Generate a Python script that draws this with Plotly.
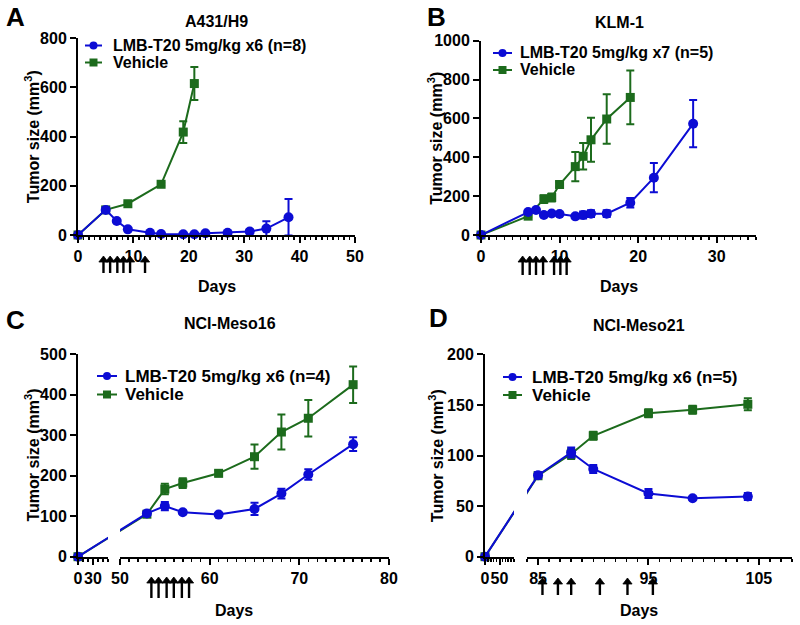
import plotly.graph_objects as go

W, H = 800, 625
OFF = 0
BLUE = "#0c0cd4"
GREEN = "#1c6b1c"
FONT = "Liberation Sans, Arial, sans-serif"

# ---------------- data ----------------
# Panel A: A431/H9
A_lmb_days = [0, 5, 7, 9, 13, 15, 19, 21, 23, 27, 31, 34, 38]
A_lmb = [0, 102, 57, 23, 9, 4, 3, 3, 7, 9, 14, 26, 72]
A_lmb_err = [0, 4, 5, 4, 3, 2, 1, 1, 3, 3, 8, 30, 74]
A_veh_days = [0, 5, 9, 15, 19, 21]
A_veh = [0, 102, 127, 206, 418, 615]
A_veh_err = [0, 3, 5, 6, 44, 67]
A_doses = [4.6, 5.8, 7.1, 8.2, 9.4, 12.1]

# Panel B: KLM-1
B_lmb_days = [0, 6, 7, 8, 9, 10, 12, 13, 14, 16, 19, 22, 27]
B_lmb = [0, 118, 129, 103, 111, 108, 96, 103, 110, 110, 166, 295, 573]
B_lmb_err = [0, 5, 5, 4, 4, 4, 5, 18, 18, 18, 25, 75, 122]
B_veh_days = [0, 6, 8, 9, 10, 12, 13, 14, 16, 19]
B_veh = [0, 97, 185, 193, 260, 352, 405, 490, 597, 708]
B_veh_err = [0, 5, 20, 20, 14, 75, 68, 113, 127, 138]
B_doses = [5.3, 6.2, 7.0, 7.9, 9.3, 10.1, 10.9]

# Panel C: NCI-Meso16
C_lmb_days = [0, 53, 55, 57, 61, 65, 68, 71, 76]
C_lmb = [0, 107, 125, 110, 104, 118, 156, 203, 278]
C_lmb_err = [0, 5, 10, 4, 3, 15, 12, 13, 17]
C_veh_days = [0, 53, 55, 57, 61, 65, 68, 71, 76]
C_veh = [0, 105, 167, 182, 206, 247, 308, 342, 425]
C_veh_err = [0, 6, 13, 12, 7, 30, 43, 45, 45]
C_doses = [53.5, 54.3, 55.2, 56.0, 56.9, 57.7]

# Panel D: NCI-Meso21
D_lmb_days = [0, 85, 88, 90, 95, 99, 104]
D_lmb = [0, 80.5, 103, 86.7, 62.5, 57.7, 59.5]
D_lmb_err = [0, 3, 5, 4, 4.5, 1.5, 3.5]
D_veh_days = [0, 85, 88, 90, 95, 99, 104]
D_veh = [0, 80, 101.5, 119.5, 141.7, 145.2, 150.6]
D_veh_err = [0, 3, 5, 4, 4, 4, 6]
D_doses = [85.4, 86.8, 88.0, 90.6, 93.1, 95.4]

TITLES = ["A431/H9", "KLM-1", "NCI-Meso16", "NCI-Meso21"]
LETTERS = ["A", "B", "C", "D"]
LEG_LMB = ["LMB-T20 5mg/kg x6 (n=8)", "LMB-T20 5mg/kg x7 (n=5)",
           "LMB-T20 5mg/kg x6 (n=4)", "LMB-T20 5mg/kg x6 (n=5)"]
LEG_VEH = "Vehicle"
YTITLE = "Tumor size (mm<sup>3</sup>)"
XTITLE = "Days"

# ---------------- geometry (screen pixels) ----------------
def fx(px):
    return (px - OFF) / W


def fy(py):
    return 1 - (py - OFF) / H


def to_px(v, dom, rng):
    return dom[0] + (v - rng[0]) / (rng[1] - rng[0]) * (dom[1] - dom[0])


def from_px(p, dom, rng):
    return rng[0] + (p - dom[0]) / (dom[1] - dom[0]) * (rng[1] - rng[0])


tickfont = dict(family=FONT, size=16, color="black", weight="bold")
MSIZE = {"circle": 10, "square": 9}

fig = go.Figure()
layout = dict(width=W, height=H,
              margin=dict(l=0, r=0, t=0, b=0, pad=0, autoexpand=False),
              paper_bgcolor="white", plot_bgcolor="rgba(0,0,0,0)",
              showlegend=False, font=dict(family=FONT, color="black"))
annotations = []
shapes = []


def xaxis_cfg(dom, rng, anchor, tickvals, minor_tick0, minor_dtick):
    return dict(domain=[fx(dom[0]), fx(dom[1])], range=rng, anchor=anchor,
                showline=True, linecolor="black", linewidth=2,
                ticks="outside", ticklen=6, tickwidth=2, tickcolor="black",
                tickmode="array", tickvals=tickvals, tickangle=0,
                tickfont=tickfont, showgrid=False, zeroline=False, fixedrange=True,
                automargin=False,
                minor=dict(ticks="outside", ticklen=3, tickwidth=1.5, tickcolor="black",
                           tickmode="linear", tick0=minor_tick0, dtick=minor_dtick,
                           showgrid=False))


def yaxis_cfg(dom, rng, anchor, dtick):
    return dict(domain=[fy(dom[0]), fy(dom[1])], range=rng, anchor=anchor,
                showline=True, linecolor="black", linewidth=2,
                ticks="outside", ticklen=6, tickwidth=2, tickcolor="black",
                tickmode="linear", tick0=0, dtick=dtick, automargin=False,
                tickfont=tickfont, showgrid=False, zeroline=False, fixedrange=True)


def series(x, y, err, xa, ya, color, symbol, mode="lines+markers"):
    return go.Scatter(x=x, y=y, xaxis=xa, yaxis=ya, mode=mode,
                      line=dict(color=color, width=2),
                      marker=dict(symbol=symbol, size=MSIZE[symbol], color=color),
                      error_y=dict(type="data", array=err, visible=True,
                                   color=color, thickness=2, width=4),
                      cliponaxis=False, showlegend=False, hoverinfo="skip")


def simple_panel(xa, ya, data):
    for days, vals, err, color, sym in data:
        fig.add_trace(series(days, vals, err, xa, ya, color, sym))


def broken_panel(xl, xr, ya, dl, rl, dr, rr, data):
    for days, vals, err, color, sym in data:
        left = [(d, v, e) for d, v, e in zip(days, vals, err) if d < rr[0]]
        right = [(d, v, e) for d, v, e in zip(days, vals, err) if d >= rr[0]]
        lx, ly = left[-1][0], left[-1][1]
        rx, ry = right[0][0], right[0][1]
        rx_in_left = from_px(to_px(rx, dr, rr), dl, rl)
        lx_in_right = from_px(to_px(lx, dl, rl), dr, rr)
        fig.add_trace(go.Scatter(x=[lx, rx_in_left], y=[ly, ry], xaxis=xl, yaxis=ya,
                                 mode="lines", line=dict(color=color, width=2),
                                 showlegend=False, hoverinfo="skip"))
        fig.add_trace(go.Scatter(x=[lx_in_right, rx], y=[ly, ry], xaxis=xr, yaxis=ya,
                                 mode="lines", line=dict(color=color, width=2),
                                 showlegend=False, hoverinfo="skip"))
        fig.add_trace(series([p[0] for p in left], [p[1] for p in left],
                             [p[2] for p in left], xl, ya, color, sym))
        fig.add_trace(series([p[0] for p in right], [p[1] for p in right],
                             [p[2] for p in right], xr, ya, color, sym))


def arrows(xref, yname, doses, tip, tail):
    # hidden y axis: value = pixels above the arrow tail
    L = tail - tip
    layout[yname] = dict(domain=[fy(tail), fy(tip)], range=[0, L], anchor=xref,
                         visible=False, fixedrange=True, automargin=False)
    sx, sy = [], []
    for d in doses:
        sx += [d, d, None]
        sy += [0, L - 5, None]
    ya = yname.replace("axis", "")
    fig.add_trace(go.Scatter(x=sx, y=sy, xaxis=xref, yaxis=ya, mode="lines",
                             line=dict(color="black", width=2.4),
                             showlegend=False, hoverinfo="skip"))
    fig.add_trace(go.Scatter(x=doses, y=[L - 4] * len(doses), xaxis=xref, yaxis=ya,
                             mode="markers",
                             marker=dict(symbol="triangle-up", size=8, color="black",
                                         line=dict(width=0.8, color="black")),
                             cliponaxis=False, showlegend=False, hoverinfo="skip"))


def legend(sym_x0, sym_x1, text_x, rows, labels, size):
    for (color, sym, lab), ry in zip(labels, rows):
        shapes.append(dict(type="line", xref="paper", yref="paper",
                           x0=fx(sym_x0), x1=fx(sym_x1), y0=fy(ry), y1=fy(ry),
                           line=dict(color=color, width=2)))
        cx = (sym_x0 + sym_x1) / 2
        shapes.append(dict(type=sym, xref="paper", yref="paper",
                           xsizemode="pixel", ysizemode="pixel",
                           xanchor=fx(cx), yanchor=fy(ry), x0=-4, x1=4, y0=-4, y1=4,
                           fillcolor=color, line=dict(color=color, width=0)))
        annotations.append(dict(x=fx(text_x), y=fy(ry), xref="paper", yref="paper",
                                text=lab, showarrow=False, xanchor="left",
                                yanchor="middle",
                                font=dict(family=FONT, size=size, color="black",
                                          weight="bold")))


def label(x, y, text, size, angle=0):
    annotations.append(dict(x=fx(x), y=fy(y), xref="paper", yref="paper", text=text,
                            showarrow=False, xanchor="center", yanchor="middle",
                            textangle=angle,
                            font=dict(family=FONT, size=size, color="black",
                                      weight="bold")))


# ---------------- Panel A ----------------
A_xd, A_xr = (78, 355), [0, 50]
A_yd, A_yr = (235, 38), [0, 800]
layout["xaxis"] = xaxis_cfg(A_xd, A_xr, "y", [0, 10, 20, 30, 40, 50], 0, 1)
layout["yaxis"] = yaxis_cfg(A_yd, A_yr, "x", 200)
simple_panel("x", "y", [(A_veh_days, A_veh, A_veh_err, GREEN, "square"),
                        (A_lmb_days, A_lmb, A_lmb_err, BLUE, "circle")])
arrows("x", "yaxis5", A_doses, 256, 273)

# ---------------- Panel B ----------------
B_xd, B_xr = (481, 756), [0, 35]
B_yd, B_yr = (235, 40.7), [0, 1000]
layout["xaxis2"] = xaxis_cfg(B_xd, B_xr, "y2", [0, 10, 20, 30], 0, 1)
layout["yaxis2"] = yaxis_cfg(B_yd, B_yr, "x2", 200)
simple_panel("x2", "y2", [(B_veh_days, B_veh, B_veh_err, GREEN, "square"),
                          (B_lmb_days, B_lmb, B_lmb_err, BLUE, "circle")])
arrows("x2", "yaxis6", B_doses, 256, 275)

# ---------------- Panel C ----------------
C_ld, C_lr = (78, 108), [0, 60]
C_rd, C_rr = (120, 389), [50, 80]
C_yd, C_yr = (556.7, 354.3), [0, 500]
layout["xaxis3"] = xaxis_cfg(C_ld, C_lr, "y3", [0, 30], 0, 10)
layout["xaxis4"] = xaxis_cfg(C_rd, C_rr, "y3", [50, 60, 70, 80], 50, 1)
layout["yaxis3"] = yaxis_cfg(C_yd, C_yr, "x3", 100)
broken_panel("x3", "x4", "y3", C_ld, C_lr, C_rd, C_rr,
             [(C_veh_days, C_veh, C_veh_err, GREEN, "square"),
              (C_lmb_days, C_lmb, C_lmb_err, BLUE, "circle")])
arrows("x4", "yaxis7", C_doses, 577, 598)

# ---------------- Panel D ----------------
D_ld, D_lr = (485, 514), [0, 100]
D_rd, D_rr = (527, 792), [84, 108]
D_yd, D_yr = (556.7, 354.3), [0, 200]
layout["xaxis5"] = xaxis_cfg(D_ld, D_lr, "y4", [0, 50], 0, 10)
layout["xaxis6"] = xaxis_cfg(D_rd, D_rr, "y4", [85, 95, 105], 84, 1)
layout["yaxis4"] = yaxis_cfg(D_yd, D_yr, "x5", 50)
broken_panel("x5", "x6", "y4", D_ld, D_lr, D_rd, D_rr,
             [(D_veh_days, D_veh, D_veh_err, GREEN, "square"),
              (D_lmb_days, D_lmb, D_lmb_err, BLUE, "circle")])
arrows("x6", "yaxis8", D_doses, 578, 595)

# ---------------- legends ----------------
legend(85, 102, 111, [45.5, 62.5],
       [(BLUE, "circle", LEG_LMB[0]), (GREEN, "rect", LEG_VEH)], 16)
legend(493, 512, 518, [53, 70],
       [(BLUE, "circle", LEG_LMB[1]), (GREEN, "rect", LEG_VEH)], 16)
legend(97, 117, 123, [376, 394.5],
       [(BLUE, "circle", LEG_LMB[2]), (GREEN, "rect", LEG_VEH)], 17)
legend(503, 522, 530, [377, 395],
       [(BLUE, "circle", LEG_LMB[3]), (GREEN, "rect", LEG_VEH)], 17)

# ---------------- titles / labels ----------------
label(216.7, 21.7, TITLES[0], 16)
label(619, 23, TITLES[1], 16)
label(230, 323, TITLES[2], 16)
label(639, 325, TITLES[3], 16)
label(15.5, 17, LETTERS[0], 26)
label(436.7, 17, LETTERS[1], 26)
label(15, 320, LETTERS[2], 26)
label(439, 318, LETTERS[3], 26)
label(216.7, 286, XTITLE, 16)
label(619, 286, XTITLE, 16)
label(234, 610, XTITLE, 16)
label(639, 610, XTITLE, 16)
label(31.7, (A_yd[0] + A_yd[1]) / 2, YTITLE, 16, -90)
label(435, (B_yd[0] + B_yd[1]) / 2, YTITLE, 16, -90)
label(32, (C_yd[0] + C_yd[1]) / 2, YTITLE, 16, -90)
label(435.7, (D_yd[0] + D_yd[1]) / 2, YTITLE, 16, -90)

layout["annotations"] = annotations
layout["shapes"] = shapes
fig.update_layout(**layout)
fig.write_html("out.html",
               config={"displayModeBar": False, "staticPlot": True},
               post_script="document.body.style.margin='0px';"
                           "document.body.style.overflow='hidden';")
